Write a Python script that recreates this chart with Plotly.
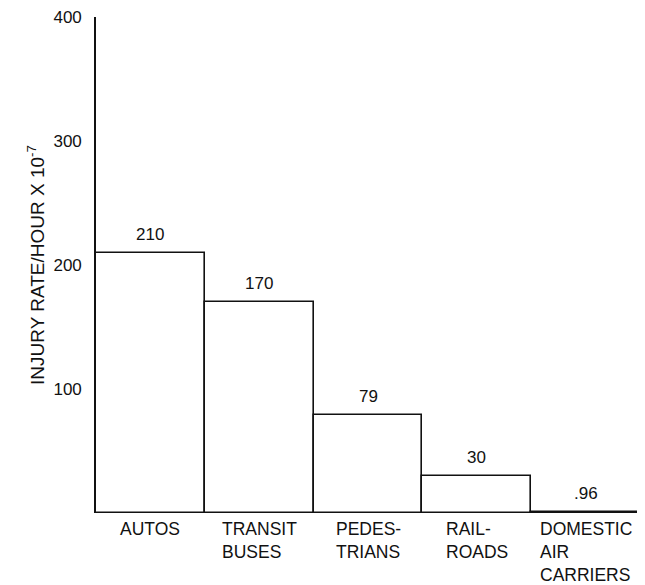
import plotly.graph_objects as go

categorias = ["AUTOS", "TRANSIT<br>BUSES", "PEDES-<br>TRIANS", "RAIL-<br>ROADS", "DOMESTIC<br>AIR<br>CARRIERS"]
taxas = [210, 170, 79, 30, 0.96]
rotulos = ["210", "170", "79", "30", ".96"]
ticks_y = [100, 200, 300, 400]

familia = "Liberation Sans, Arial, sans-serif"
fonte = dict(family=familia, size=17, color="#111111")
fonte_cat = dict(family=familia, size=17.5, color="#111111")

fig = go.Figure(
    go.Bar(
        x=categorias,
        y=taxas,
        marker=dict(color="white", line=dict(color="#111111", width=1.6)),
        hoverinfo="skip",
    )
)

# valores acima das barras
for cat, val, txt in zip(categorias, taxas, rotulos):
    fig.add_annotation(
        x=cat, y=val, text=txt, showarrow=False,
        yanchor="bottom", yshift=7, font=fonte,
    )

# nomes das categorias, alinhados a esquerda como no original
for cat in categorias:
    fig.add_annotation(
        x=cat, y=0, text=cat, showarrow=False,
        yanchor="top", yshift=-4, align="left", font=fonte_cat,
    )

# a pagina tem 8px de margem no body, por isso a figura e um pouco menor
fig.update_layout(
    width=637,
    height=577,
    showlegend=False,
    bargap=0,
    plot_bgcolor="white",
    paper_bgcolor="white",
    font=fonte,
    margin=dict(l=88, r=5, t=9, b=72),
    xaxis=dict(
        showticklabels=False,
        showline=False,
        showgrid=False, zeroline=False, ticks="",
        automargin=False,
    ),
    yaxis=dict(
        range=[0, 400],
        tickvals=ticks_y,
        ticktext=[str(v) for v in ticks_y],
        ticks="",
        ticklabelstandoff=9,
        ticklabeloverflow="allow",
        showline=True, linecolor="#111111", linewidth=1.6,
        showgrid=False, zeroline=False,
        automargin=False,
        title=dict(text="INJURY RATE/HOUR X 10<sup>-7</sup>", standoff=4,
                   font=dict(family=familia, size=19, color="#111111")),
    ),
)

fig.write_html("out.html")
